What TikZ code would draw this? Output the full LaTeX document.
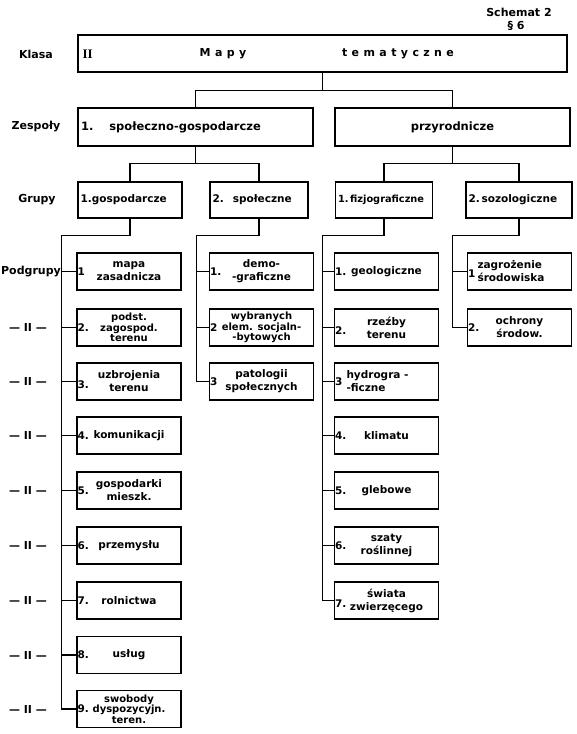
\documentclass[tikz,border=0pt]{standalone}
\usepackage{fontspec}
\setmainfont{DejaVu Sans}
\newfontfamily\myromb{Liberation Serif}
\newcommand\myfA{\fontsize{11}{12.5}\selectfont\bfseries}
\newcommand\myfB{\fontsize{10.5}{13}\selectfont\bfseries}
\newcommand\myfC{\fontsize{10}{10.6}\selectfont\bfseries}
\newcommand\myfG{\fontsize{9.8}{12}\selectfont\bfseries}
\begin{document}
\begin{tikzpicture}[x=1pt,y=-1pt,line width=1.2pt,
  every node/.style={font=\myfA},
  bx/.style={draw,line width=1.3pt,inner sep=1.5pt},
  sub/.style={bx,minimum width=104pt,minimum height=37pt,align=center,font=\myfB},
  sub3/.style={sub,font=\myfC},
  num/.style={anchor=west,inner sep=0.6pt,font=\myfB},
  grp/.style={bx,minimum height=36pt,align=left,font=\myfB},
  lbl/.style={font=\myfA}]
\useasboundingbox (0,0) rectangle (577,734);

% header
\node (schemat) at (519,12) {Schemat 2};
\node (par) at (516,26) {§ 6};

% Klasa
\node[bx,minimum width=489pt,minimum height=37pt] (klasa) at (322.5,53.5) {};
\node[anchor=west,inner sep=0pt] (kII) at (82,54) {\myromb\fontsize{13}{14}\selectfont\bfseries II};
\node (kmapy) at (223,54) {\addfontfeature{LetterSpace=40}Mapy};
\node (ktem) at (398,54) {\addfontfeature{LetterSpace=40}tematyczne};

% Zespoly
\node[bx,minimum width=235pt,minimum height=38pt,text width=229pt,align=left,font=\fontsize{11.5}{13}\selectfont\bfseries] (zL) at (195.5,127) {1.\hspace{16pt}społeczno-gospodarcze};
\node[bx,minimum width=235pt,minimum height=38pt,font=\fontsize{11.5}{13}\selectfont\bfseries] (zR) at (452.5,127) {przyrodnicze};

% Grupy
\node[grp,minimum width=104pt,text width=99pt] (g1) at (130,200) {1.gospodarcze};
\node[grp,minimum width=98pt,text width=93pt] (g2) at (259,200) {2.\hspace{9pt}społeczne};
\node[grp,minimum width=97pt,text width=92pt,font=\myfG] (g3) at (384,200) {1.\,fizjograficzne};
\node[grp,minimum width=106pt,text width=101pt] (g4) at (519,200) {2.\,sozologiczne};

% Podgrupy column 1
\node[sub,label={[num]west:1}] (s11) at (129,271.5) {mapa\\zasadnicza};
\node[sub3,label={[num]west:2.}] (s12) at (129,327.5) {podst.\\zagospod.\\terenu};
\node[sub,label={[num,yshift=-3pt]west:3.}] (s13) at (129,381.5) {uzbrojenia\\terenu};
\node[sub,label={[num]west:4.}] (s14) at (129,435.5) {komunikacji};
\node[sub,label={[num]west:5.}] (s15) at (129,490.5) {gospodarki\\mieszk.};
\node[sub,label={[num]west:6.}] (s16) at (129,545.5) {przemysłu};
\node[sub,label={[num]west:7.}] (s17) at (129,600.5) {rolnictwa};
\node[sub,label={[num]west:8.}] (s18) at (129,655) {usług};
\node[sub3,label={[num]west:9.}] (s19) at (129,709) {swobody\\dyspozycyjn.\\teren.};

% column 2
\node[sub,label={[num]west:1.}] (s21) at (261.5,271.5) {demo-\\-graficzne};
\node[sub3,label={[num]west:2}] (s22) at (261.5,327.5) {wybranych\\elem. socjaln-\\-bytowych};
\node[sub,label={[num]west:3}] (s23) at (261.5,381.5) {patologii\\społecznych};

% column 3
\node[sub,label={[num]west:1.}] (s31) at (386.5,271.5) {geologiczne};
\node[sub,label={[num,yshift=-3pt]west:2.}] (s32) at (386.5,327.5) {rzeźby\\terenu};
\node[sub,text width=80pt,align=left,label={[num]west:3}] (s33) at (386.5,381.5) {hydrogra -\\-ficzne};
\node[sub,label={[num]west:4.}] (s34) at (386.5,435.5) {klimatu};
\node[sub,label={[num]west:5.}] (s35) at (386.5,490.5) {glebowe};
\node[sub,label={[num]west:6.}] (s36) at (386.5,545.5) {szaty\\roślinnej};
\node[sub,label={[num,yshift=-3pt]west:7.}] (s37) at (386.5,600.5) {świata\\zwierzęcego};

% column 4
\node[sub,text width=84pt,align=left,label={[num,yshift=-2pt]west:1}] (s41) at (519.5,271.5) {zagrożenie\\środowiska};
\node[sub,label={[num]west:2.}] (s42) at (519.5,327.5) {ochrony\\środow.};

% row labels
\node[lbl] (lklasa) at (36,54) {Klasa};
\node[lbl] (lzesp) at (36,127) {Zespoły};
\node[lbl] (lgrupy) at (37,200) {Grupy};
\node[lbl] (lpodgr) at (31,272) {Podgrupy};
\foreach \r/\yy in {2/327.5,3/381.5,4/435.5,5/490.5,6/545.5,7/600.5,8/655,9/709}
  \node[lbl] (ditto\r) at (28,\yy) {— II —};

% connectors
\draw (klasa.south) -- ++(0,18) -| (zL.north);
\draw (klasa.south) -- ++(0,18) -| (zR.north);
\draw (zL.south) -- ++(0,17) -| (g1.north);
\draw (zL.south) -- ++(0,17) -| (g2.north);
\draw (zR.south) -- ++(0,17) -| (g3.north);
\draw (zR.south) -- ++(0,17) -| (g4.north);

\draw (g1.south) -- ++(0,17) -| ([xshift=-15pt]s19.west) -- (s19.west);
\foreach \k in {1,...,8} \draw (s1\k.west) -- ++(-15,0);
\draw (g2.south) -- ++(0,17) -| ([xshift=-12.5pt]s23.west) -- (s23.west);
\foreach \k in {1,2} \draw (s2\k.west) -- ++(-12.5,0);
\draw (g3.south) -- ++(0,17) -| ([xshift=-11pt]s37.west) -- (s37.west);
\foreach \k in {1,...,6} \draw (s3\k.west) -- ++(-11,0);
\draw (g4.south) -- ++(0,17) -| ([xshift=-14.5pt]s42.west) -- (s42.west);
\draw (s41.west) -- ++(-14.5,0);
\end{tikzpicture}
\end{document}
